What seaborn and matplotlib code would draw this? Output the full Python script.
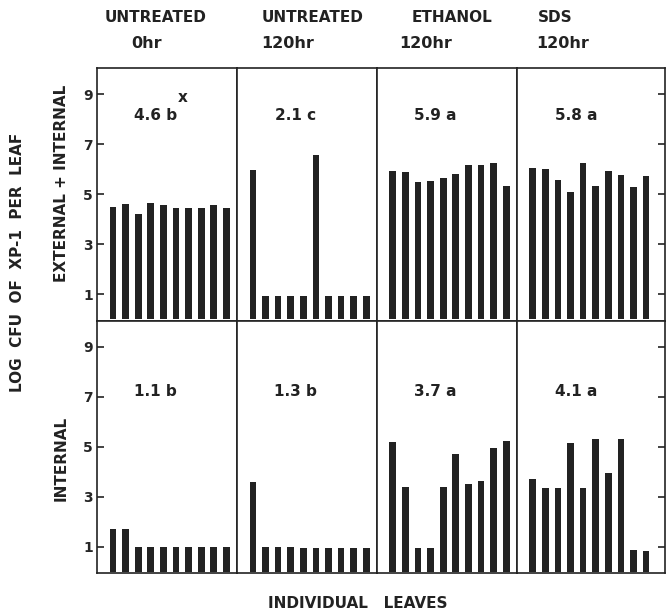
import pandas as pd
import numpy as np
import matplotlib.pyplot as plt
import seaborn as sns

# Log CFU of XP-1 per leaf, ten individual leaves per treatment
treatments = ['UNTREATED\n0hr', 'UNTREATED\n120hr', 'ETHANOL\n120hr', 'SDS\n120hr']
header_top = ['UNTREATED', 'UNTREATED', 'ETHANOL', 'SDS']
header_time = ['0hr', '120hr', '120hr', '120hr']
leaves = list(range(1, 11))

total_untreated_0 = [4.50, 4.60, 4.20, 4.67, 4.57, 4.46, 4.45, 4.45, 4.58, 4.46]
total_untreated_120 = [5.97, 0.92, 0.92, 0.92, 0.92, 6.57, 0.92, 0.92, 0.92, 0.92]
total_ethanol = [5.93, 5.90, 5.50, 5.53, 5.66, 5.82, 6.17, 6.18, 6.24, 5.32]
total_sds = [6.06, 6.02, 5.56, 5.08, 6.26, 5.32, 5.93, 5.77, 5.29, 5.72]

int_untreated_0 = [1.72, 1.72, 1.00, 1.00, 1.00, 1.00, 1.00, 1.00, 1.00, 1.00]
int_untreated_120 = [3.60, 1.00, 1.00, 1.00, 0.97, 0.97, 0.97, 0.97, 0.97, 0.97]
int_ethanol = [5.20, 3.40, 0.94, 0.94, 3.40, 4.70, 3.51, 3.65, 4.96, 5.23]
int_sds = [3.70, 3.36, 3.36, 5.16, 3.36, 5.31, 3.95, 5.31, 0.87, 0.84]

# mean + significance letter shown in each panel
total_means = ['4.6 b', '2.1 c', '5.9 a', '5.8 a']
int_means = ['1.1 b', '1.3 b', '3.7 a', '4.1 a']

rows = {
    'EXTERNAL + INTERNAL': [total_untreated_0, total_untreated_120, total_ethanol, total_sds],
    'INTERNAL': [int_untreated_0, int_untreated_120, int_ethanol, int_sds],
}

records = []
for fraction, series in rows.items():
    for trt, vals in zip(treatments, series):
        for leaf, v in zip(leaves, vals):
            records.append({'fraction': fraction, 'treatment': trt, 'leaf': leaf, 'log_cfu': v})
df = pd.DataFrame(records)

sns.set_style('white')
plt.rcParams['font.family'] = ['DejaVu Sans']

W, H = 666, 613
fig = plt.figure(figsize=(W / 100, H / 100), dpi=100)
gs = fig.add_gridspec(2, 4, width_ratios=[11.1, 11.1, 11.1, 11.77],
                      left=97 / W, right=665 / W, top=1 - 68 / H, bottom=1 - 573 / H,
                      wspace=0, hspace=0)

ink = '#222222'
for r, (fraction, means) in enumerate(zip(rows.keys(), [total_means, int_means])):
    for c, trt in enumerate(treatments):
        ax = fig.add_subplot(gs[r, c])
        sub = df[(df['fraction'] == fraction) & (df['treatment'] == trt)]
        sns.barplot(data=sub, x='leaf', y='log_cfu', ax=ax, color=ink,
                    saturation=1, width=0.53, linewidth=0)
        ax.set_xlim(-1.27, 10.5 if c == 3 else 9.83)
        ax.set_ylim(-0.05, 10.05)
        ax.set_xlabel('')
        ax.set_ylabel('')
        ax.set_xticks([])
        ax.set_yticks([1, 3, 5, 7, 9])
        for s in ax.spines.values():
            s.set_visible(True)
            s.set_color(ink)
            s.set_linewidth(1.2)
        ax.tick_params(axis='y', direction='in', length=5, width=1.2, color=ink,
                       left=(c == 0), right=(c == 3), labelleft=(c == 0), labelright=False,
                       labelsize=10, pad=3)
        for lab in ax.get_yticklabels():
            lab.set_fontweight('bold')
        ty = 0.81 if r == 0 else 0.72
        ax.text(0.42 if c < 3 else 0.40, ty, means[c], transform=ax.transAxes,
                ha='center', va='center', fontsize=11, fontweight='bold', color=ink)
        if r == 0 and c == 0:
            ax.text(0.61, 0.885, 'x', transform=ax.transAxes, ha='center', va='center',
                    fontsize=11, fontweight='bold', color=ink)

# column headers
head_x = [156, 313, 452, 555]
time_x = [147, 288, 426, 563]
for hx, tx, h1, h2 in zip(head_x, time_x, header_top, header_time):
    fig.text(hx / W, 1 - 17 / H, h1, ha='center', va='center', fontsize=11,
             fontweight='bold', color=ink)
    fig.text(tx / W, 1 - 44 / H, h2, ha='center', va='center', fontsize=11.5,
             fontweight='bold', color=ink)

# axis labels
fig.text(18 / W, 1 - 262 / H, 'LOG  CFU  OF  XP-1  PER  LEAF', rotation=90,
         ha='center', va='center', fontsize=11, fontweight='bold', color=ink)
fig.text(61 / W, 1 - 183 / H, 'EXTERNAL + INTERNAL', rotation=90,
         ha='center', va='center', fontsize=11, fontweight='bold', color=ink)
fig.text(61 / W, 1 - 458 / H, 'INTERNAL', rotation=90,
         ha='center', va='center', fontsize=11, fontweight='bold', color=ink)
fig.text(358 / W, 1 - 603 / H, 'INDIVIDUAL   LEAVES', ha='center', va='center',
         fontsize=11, fontweight='bold', color=ink)

plt.savefig('out.png', dpi=100, facecolor='white')
